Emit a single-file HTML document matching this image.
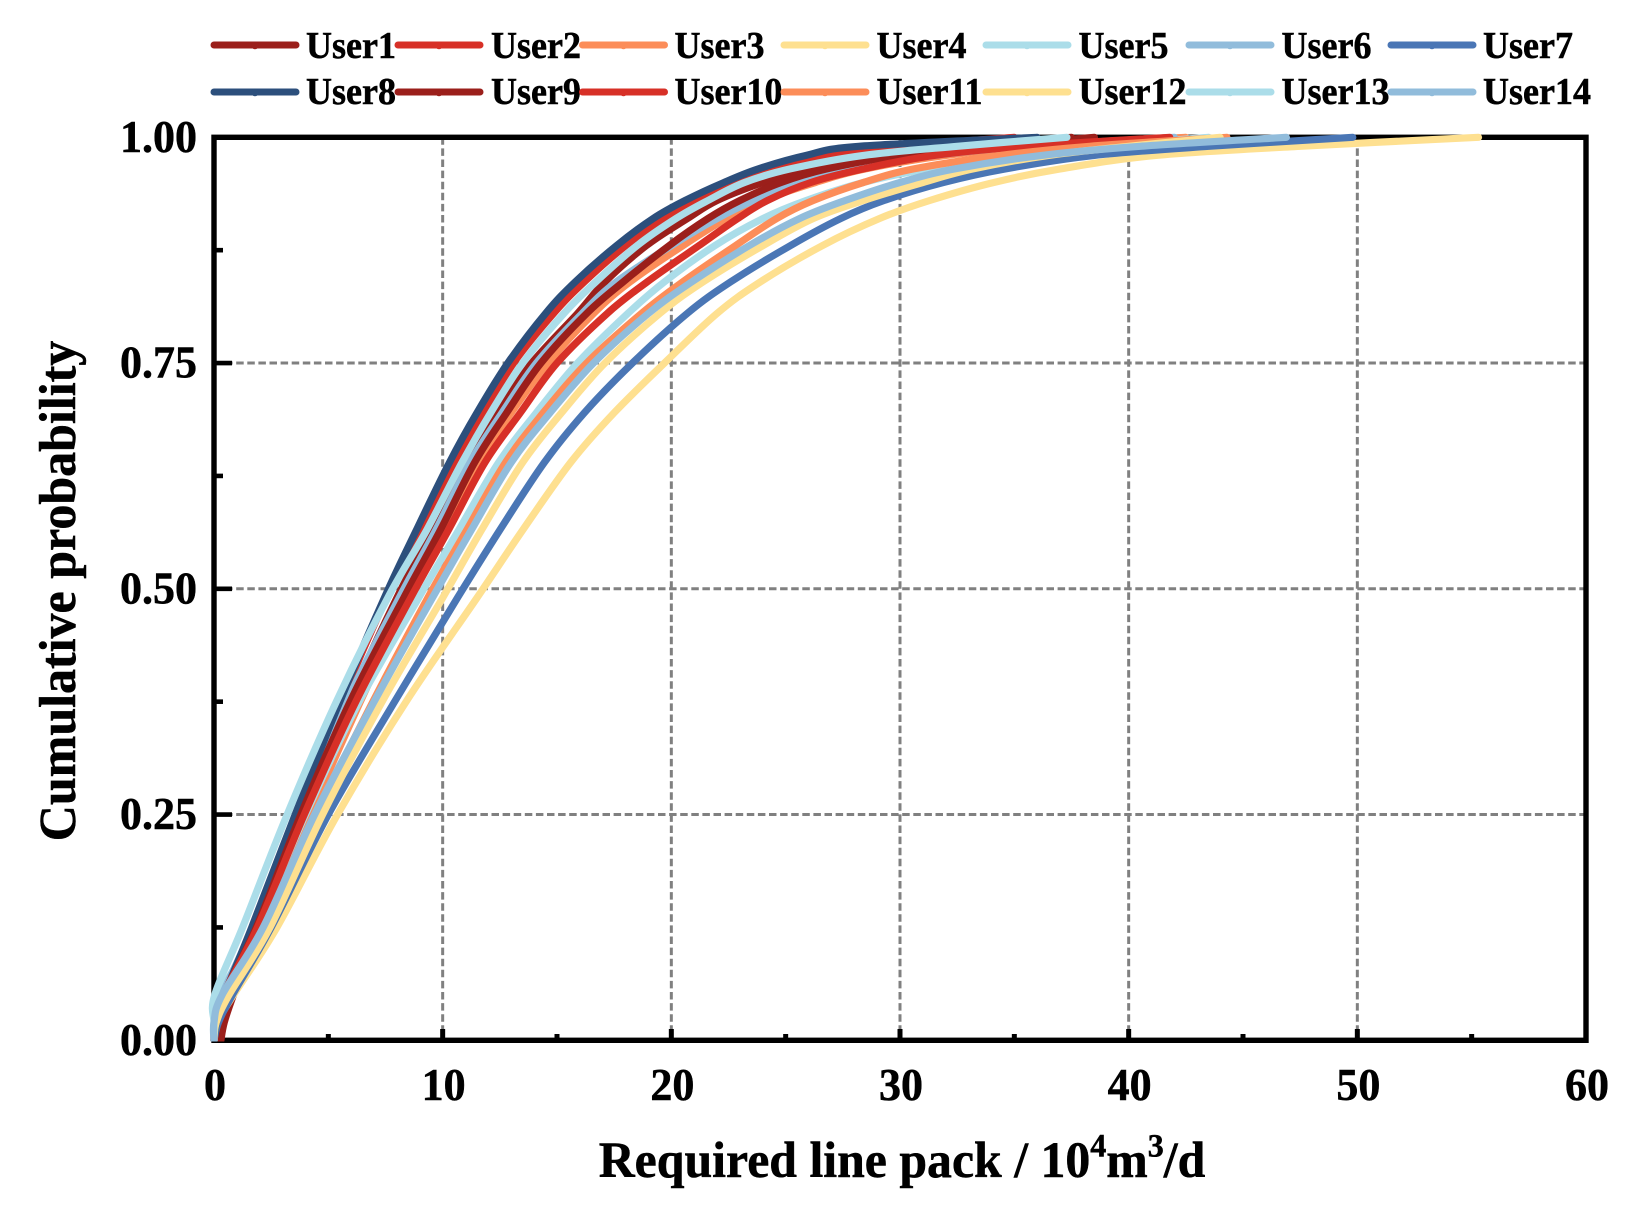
<!DOCTYPE html>
<html lang="en">
<head>
<meta charset="utf-8">
<title>Cumulative probability of required line pack</title>
<style>
html,body{margin:0;padding:0;background:#fff;}
svg{display:block;}
text{font-family:"Liberation Serif",serif;font-weight:bold;fill:#000;stroke:#000;stroke-width:.5px;}
</style>
</head>
<body>
<svg id="chart" xmlns="http://www.w3.org/2000/svg" width="1633" height="1211" viewBox="0 0 1633 1211">
  <defs>
    <clipPath id="plot-clip"><rect x="208" y="130" width="1400" height="911.5"/></clipPath>
  </defs>
  <rect width="1633" height="1211" fill="#fff"/>
  <g id="grid"></g>
  <g id="ticks"></g>
  <rect x="214" y="137.3" width="1372" height="903" fill="none" stroke="#000" stroke-width="5.4"/>
  <g id="tick-labels"></g>
  <g id="series" clip-path="url(#plot-clip)"></g>
  <g id="legend"></g>
  <text transform="translate(75,591) rotate(-90) scale(1,1.03)" text-anchor="middle" font-size="50">Cumulative probability</text>
  <text transform="translate(902,1177) scale(1,1.03)" text-anchor="middle" font-size="49.8">Required line pack / 10<tspan font-size="32" dy="-20">4</tspan><tspan dy="20">m</tspan><tspan font-size="32" dy="-20">3</tspan><tspan dy="20">/d</tspan></text>
</svg>
<script>
const probabilities = [0, .02, .05, .125, .25, .375, .49, .565, .64, .695, .75, .805, .84, .88, .91, .93, .95, .965, .98, .99, 1];
const user1 = [.3, .45, .85, 2.0, 3.9, 5.9, 8.0, 9.55, 11.0, 12.4, 13.9, 15.9, 17.1, 18.9, 20.7, 22.0, 24.0, 26.0, 29.0, 32.8, 37.5];
const user2 = [0, .1, .45, 1.7, 3.6, 5.55, 7.55, 9.05, 10.5, 11.8, 13.1, 14.85, 16.2, 18.0, 19.7, 21.1, 22.9, 24.4, 26.9, 30.0, 35.0];
const user3 = [0, .05, .45, 2.1, 4.2, 6.4, 8.55, 10.05, 11.55, 13.0, 14.6, 16.6, 18.2, 20.5, 22.4, 24.0, 26.3, 28.5, 32.0, 36.0, 42.5];
const user4 = [0, .15, .85, 2.75, 5.4, 8.4, 11.5, 13.5, 15.6, 17.5, 19.7, 22.0, 23.9, 26.6, 29.1, 31.3, 34.1, 37.0, 41.2, 47.5, 55.3];
const user5 = [0, 0, .25, 1.85, 4.0, 6.35, 8.95, 10.7, 12.45, 14.1, 15.9, 18.1, 19.7, 21.9, 24.0, 25.9, 28.4, 31.2, 35.4, 38.7, 43.5];
const user6 = [0, .05, .35, 1.7, 3.7, 5.8, 8.1, 9.7, 11.2, 12.6, 14.1, 16.1, 17.6, 20.0, 22.0, 23.6, 25.6, 28.0, 31.5, 35.5, 42.0];
const user7 = [0, .2, .8, 2.5, 5.0, 7.9, 10.65, 12.5, 14.45, 16.2, 18.3, 20.7, 22.6, 25.2, 27.4, 29.3, 31.9, 34.6, 38.5, 43.5, 49.8];
const user8 = [0, .1, .45, 1.65, 3.55, 5.5, 7.45, 8.85, 10.3, 11.5, 12.85, 14.5, 15.8, 17.6, 19.2, 20.6, 22.3, 23.8, 25.9, 28.2, 36.0];
const user9 = [0, .05, .4, 1.85, 3.8, 5.95, 8.3, 9.9, 11.4, 12.8, 14.3, 16.3, 17.9, 19.9, 21.6, 23.0, 24.8, 26.8, 30.0, 33.8, 38.5];
const user10 = [0, .05, .4, 1.9, 3.95, 6.2, 8.6, 10.25, 11.85, 13.4, 15.0, 17.2, 18.95, 21.2, 22.9, 24.2, 26.1, 28.4, 31.5, 35.5, 41.8];
const user11 = [0, .05, .5, 2.3, 4.5, 6.95, 9.35, 11.05, 12.75, 14.4, 16.3, 18.7, 20.5, 22.8, 24.6, 26.2, 28.4, 30.6, 34.4, 38.3, 44.3];
const user12 = [0, .1, .65, 2.45, 4.75, 7.35, 10.0, 11.7, 13.5, 15.2, 17.1, 19.5, 21.4, 24.0, 26.2, 28.4, 31.0, 33.2, 36.5, 40.0, 44.0];
const user13 = [0, 0, .03, 1.25, 3.2, 5.35, 7.6, 9.3, 10.85, 12.1, 13.5, 15.3, 16.7, 18.5, 20.2, 21.6, 23.2, 25.2, 28.4, 32.5, 37.3];
const user14 = [0, 0, .35, 2.15, 4.4, 7.0, 9.55, 11.25, 13.0, 14.7, 16.6, 19.0, 20.9, 23.4, 25.6, 27.6, 30.0, 32.4, 36.2, 40.5, 46.9];
const seriesValues = [user1, user2, user3, user4, user5, user6, user7, user8, user9, user10, user11, user12, user13, user14];
const seriesNames = ["User1","User2","User3","User4","User5","User6","User7","User8","User9","User10","User11","User12","User13","User14"];
const xMajorTicks = [0, 10, 20, 30, 40, 50, 60];
const xMinorTicks = [5, 15, 25, 35, 45, 55];
const yMajorTicks = [0, .25, .5, .75, 1];
const yMinorTicks = [.125, .375, .625, .875];
const xTickLabels = ["0","10","20","30","40","50","60"];
const yTickLabels = ["0.00","0.25","0.50","0.75","1.00"];

const palette = ["#9B1F1B","#D73027","#FC8D59","#FEE090","#ABDDE9","#91BCDB","#4A76B5","#2C4F7C"];
const legendSwatchLeft = [211, 395, 579.5, 781, 983, 1186, 1388];
const legendTextLeft = [306, 491, 674.5, 876.5, 1078.5, 1281.5, 1483];
const legendRowLine = [45, 92];
const legendRowText = [58, 104];
const NS = "http://www.w3.org/2000/svg";
const xScale = v => 214 + v * (1372 / 60);
const yScale = p => 1040.3 - p * 903;
function make(tag, attrs, parent, txt) {
  const e = document.createElementNS(NS, tag);
  for (const k in attrs) e.setAttribute(k, attrs[k]);
  if (txt !== undefined) e.textContent = txt;
  parent.appendChild(e);
  return e;
}
function smoothPath(pts) {
  let d = "M" + pts[0][0].toFixed(1) + " " + pts[0][1].toFixed(1);
  for (let i = 0; i < pts.length - 1; i++) {
    const p0 = pts[Math.max(i - 1, 0)], p1 = pts[i], p2 = pts[i + 1], p3 = pts[Math.min(i + 2, pts.length - 1)];
    const c1x = p1[0] + (p2[0] - p0[0]) / 6, c1y = p1[1] + (p2[1] - p0[1]) / 6;
    const c2x = p2[0] - (p3[0] - p1[0]) / 6, c2y = p2[1] - (p3[1] - p1[1]) / 6;
    d += "C" + c1x.toFixed(1) + " " + c1y.toFixed(1) + " " + c2x.toFixed(1) + " " + c2y.toFixed(1) + " " + p2[0].toFixed(1) + " " + p2[1].toFixed(1);
  }
  return d;
}
const gridG = document.getElementById("grid");
const ticksG = document.getElementById("ticks");
const labelsG = document.getElementById("tick-labels");
const seriesG = document.getElementById("series");
const legendG = document.getElementById("legend");

xMajorTicks.slice(1, -1).forEach(v => {
  const g = make("line", {x1:xScale(v), x2:xScale(v), y1:yScale(1), y2:yScale(0), stroke:"#808080", "stroke-width":3, "stroke-dasharray":"7.5 3.6"}, gridG);
  
  
});
yMajorTicks.slice(1, -1).forEach(p => {
  const g = make("line", {x1:xScale(0), x2:xScale(60), y1:yScale(p), y2:yScale(p), stroke:"#808080", "stroke-width":3, "stroke-dasharray":"7.5 3.6"}, gridG);
  
  
});
xMajorTicks.forEach(v => {
  const t = make("line", {x1:xScale(v), x2:xScale(v), y1:1040, y2:1029, stroke:"#000", "stroke-width":5}, ticksG);
  
  
});
xMinorTicks.forEach(v => {
  const t = make("line", {x1:xScale(v), x2:xScale(v), y1:1040, y2:1034, stroke:"#000", "stroke-width":5}, ticksG);
  
  
});
yMajorTicks.forEach(p => {
  const t = make("line", {x1:214, x2:232, y1:yScale(p), y2:yScale(p), stroke:"#000", "stroke-width":4.6}, ticksG);
  
  
});
yMinorTicks.forEach(p => {
  const t = make("line", {x1:214, x2:223, y1:yScale(p), y2:yScale(p), stroke:"#000", "stroke-width":4.6}, ticksG);
  
  
});
xMajorTicks.forEach((v, i) => {
  const t = make("text", {transform:`translate(${xScale(v) + 1},1100) scale(1,1.03)`, "text-anchor":"middle", "font-size":44}, labelsG, xTickLabels[i]);
  
  
});
yMajorTicks.forEach((p, i) => {
  const t = make("text", {transform:`translate(197,${yScale(p) + 14.5}) scale(1,1.03)`, "text-anchor":"end", "font-size":44}, labelsG, yTickLabels[i]);
  
  
});
seriesValues.forEach((vals, i) => {
  const pts = vals.map((v, j) => [xScale(v), yScale(probabilities[j])]);
  const line = make("path", {d:smoothPath(pts), fill:"none", stroke:palette[i < 8 ? i : i - 8], "stroke-width":7.2, "stroke-linejoin":"round", "stroke-linecap":"round"}, seriesG);
  
  
});
seriesNames.forEach((name, i) => {
  const row = i < 7 ? 0 : 1;
  const col = i % 7;
  const color = palette[i < 8 ? i : i - 8];
  const x0 = legendSwatchLeft[col];
  const y0 = legendRowLine[row];
  const s = make("line", {x1:x0 + 3, x2:x0 + 85, y1:y0, y2:y0, stroke:color, "stroke-width":7, "stroke-linecap":"round"}, legendG);
  
  
  const m = make("circle", {cx:x0 + 44, cy:y0 + 0.5, r:3.8, fill:color}, legendG);
  
  
  const t = make("text", {transform:`translate(${legendTextLeft[col]},${legendRowText[row]}) scale(1,1.05)`, "font-size":36}, legendG, name);
  
  
});
</script>
</body>
</html>
